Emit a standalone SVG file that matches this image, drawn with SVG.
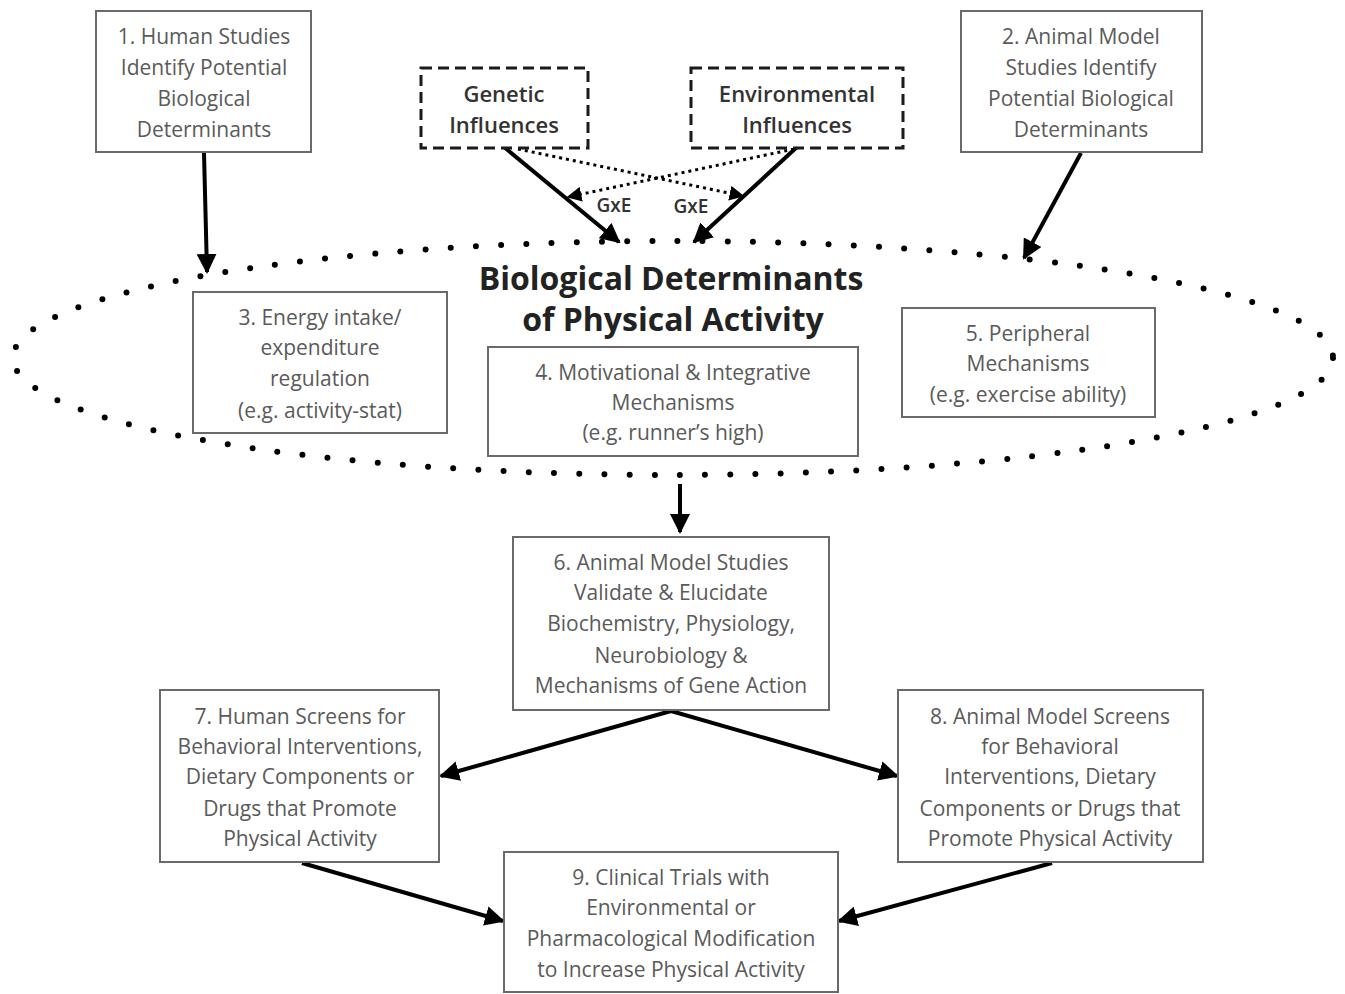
<svg xmlns="http://www.w3.org/2000/svg" width="1345" height="994" viewBox="0 0 1345 994">
<style>
.box{fill:#fff;stroke:#6a6a6a;stroke-width:2}
.dbox{fill:#fff;stroke:#1a1a1a;stroke-width:3;stroke-dasharray:11 6}
.t{font-family:"Open Sans","Liberation Sans",sans-serif;font-size:21px;fill:#5a5a5a;text-anchor:middle}
.td{font-family:"Open Sans","Liberation Sans",sans-serif;font-size:22px;fill:#333;text-anchor:middle;font-weight:600}
.title{font-family:"Open Sans","Liberation Sans",sans-serif;font-size:32px;fill:#222;text-anchor:middle;font-weight:700}
.g{font-family:"Open Sans","Liberation Sans",sans-serif;font-size:19px;fill:#333;text-anchor:middle;font-weight:600}
.a{stroke:#000;stroke-width:4;fill:none;marker-end:url(#ah)}
.d{stroke:#000;stroke-width:3;fill:none;stroke-dasharray:3 4;marker-end:url(#ahs)}
</style>
<defs>
<marker id="ah" markerWidth="5" markerHeight="5" refX="4.5" refY="2.5" orient="auto" markerUnits="strokeWidth"><path d="M0,0 L5,2.5 L0,5 Z" fill="#000"/></marker>
<marker id="ahs" markerWidth="5" markerHeight="5" refX="4.5" refY="2.5" orient="auto" markerUnits="strokeWidth"><path d="M0,0 L5,2.5 L0,5 Z" fill="#000"/></marker>
</defs>
<rect width="1345" height="994" fill="#fff"/>

<g id="ellipse">
<ellipse cx="673" cy="358" rx="660" ry="117" fill="none" stroke="#000" stroke-width="6" stroke-linecap="round" stroke-dasharray="0 25.2"/>
</g>

<g id="connectors">
<line class="a" x1="204" y1="153" x2="207" y2="272"/>
<line class="a" x1="1081" y1="153" x2="1024" y2="258"/>
<line class="a" x1="504" y1="147" x2="619" y2="242"/>
<line class="a" x1="797" y1="147" x2="694" y2="242"/>
<line class="d" x1="518" y1="149" x2="743" y2="196"/>
<line class="d" x1="794" y1="149" x2="568" y2="197"/>
<line class="a" x1="680" y1="484" x2="680" y2="532"/>
<line class="a" x1="671" y1="711" x2="441" y2="776"/>
<line class="a" x1="671" y1="711" x2="897" y2="776"/>
<line class="a" x1="302" y1="863" x2="503" y2="921"/>
<line class="a" x1="1052" y1="863" x2="839" y2="921"/>
<text class="g" x="614" y="212">GxE</text>
<text class="g" x="691" y="213">GxE</text>
</g>

<g id="title">
<text class="title" x="671" y="290">Biological Determinants</text>
<text class="title" x="673" y="331">of Physical Activity</text>
</g>

<g id="n1">
<rect class="box" x="96" y="11" width="215" height="141"/>
<text class="t" x="204" y="44">1. Human Studies</text>
<text class="t" x="204" y="75">Identify Potential</text>
<text class="t" x="204" y="106">Biological</text>
<text class="t" x="204" y="137">Determinants</text>
</g>

<g id="n2">
<rect class="box" x="961" y="11" width="241" height="141"/>
<text class="t" x="1081" y="44">2. Animal Model</text>
<text class="t" x="1081" y="75">Studies Identify</text>
<text class="t" x="1081" y="106">Potential Biological</text>
<text class="t" x="1081" y="137">Determinants</text>
</g>

<g id="genetic">
<rect class="dbox" x="421" y="68" width="167" height="80"/>
<text class="td" x="504" y="102">Genetic</text>
<text class="td" x="504" y="133">Influences</text>
</g>

<g id="environmental">
<rect class="dbox" x="691" y="68" width="212" height="80"/>
<text class="td" x="797" y="102">Environmental</text>
<text class="td" x="797" y="133">Influences</text>
</g>

<g id="n3">
<rect class="box" x="193" y="292" width="254" height="141"/>
<text class="t" x="320" y="325">3. Energy intake/</text>
<text class="t" x="320" y="355">expenditure</text>
<text class="t" x="320" y="386">regulation</text>
<text class="t" x="320" y="418">(e.g. activity-stat)</text>
</g>

<g id="n4">
<rect class="box" x="488" y="347" width="370" height="109"/>
<text class="t" x="673" y="380">4. Motivational &amp; Integrative</text>
<text class="t" x="673" y="410">Mechanisms</text>
<text class="t" x="673" y="440">(e.g. runner’s high)</text>
</g>

<g id="n5">
<rect class="box" x="902" y="308" width="253" height="109"/>
<text class="t" x="1028" y="341">5. Peripheral</text>
<text class="t" x="1028" y="371">Mechanisms</text>
<text class="t" x="1028" y="402">(e.g. exercise ability)</text>
</g>

<g id="n6">
<rect class="box" x="513" y="537" width="316" height="173"/>
<text class="t" x="671" y="570">6. Animal Model Studies</text>
<text class="t" x="671" y="600">Validate &amp; Elucidate</text>
<text class="t" x="671" y="631">Biochemistry, Physiology,</text>
<text class="t" x="671" y="663">Neurobiology &amp;</text>
<text class="t" x="671" y="693">Mechanisms of Gene Action</text>
</g>

<g id="n7">
<rect class="box" x="160" y="690" width="279" height="172"/>
<text class="t" x="300" y="724">7. Human Screens for</text>
<text class="t" x="300" y="754">Behavioral Interventions,</text>
<text class="t" x="300" y="784">Dietary Components or</text>
<text class="t" x="300" y="816">Drugs that Promote</text>
<text class="t" x="300" y="846">Physical Activity</text>
</g>

<g id="n8">
<rect class="box" x="898" y="690" width="305" height="172"/>
<text class="t" x="1050" y="724">8. Animal Model Screens</text>
<text class="t" x="1050" y="754">for Behavioral</text>
<text class="t" x="1050" y="784">Interventions, Dietary</text>
<text class="t" x="1050" y="816">Components or Drugs that</text>
<text class="t" x="1050" y="846">Promote Physical Activity</text>
</g>

<g id="n9">
<rect class="box" x="504" y="852" width="334" height="140"/>
<text class="t" x="671" y="885">9. Clinical Trials with</text>
<text class="t" x="671" y="915">Environmental or</text>
<text class="t" x="671" y="946">Pharmacological Modification</text>
<text class="t" x="671" y="977">to Increase Physical Activity</text>
</g>
</svg>
